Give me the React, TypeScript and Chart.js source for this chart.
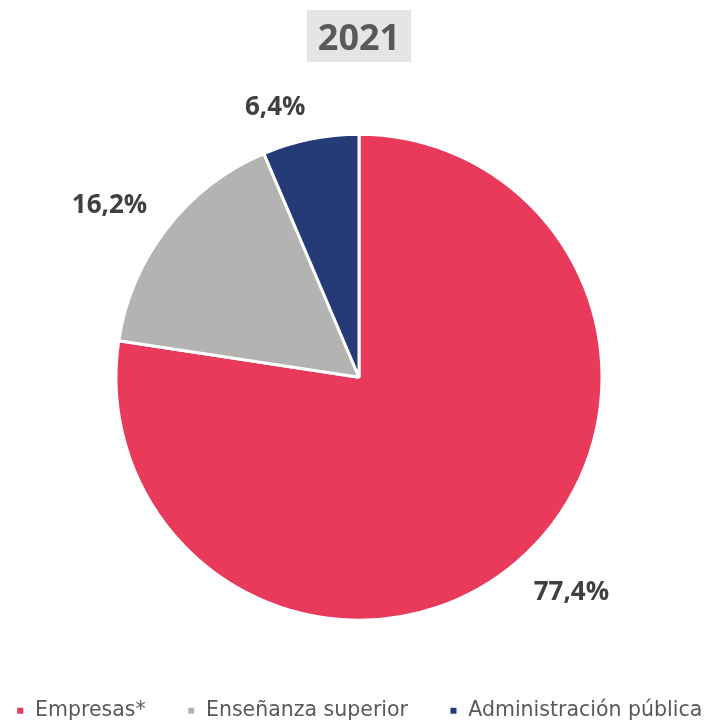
import React, { useEffect, useRef } from "react";
import { Chart, registerables } from "chart.js";

Chart.register(...registerables);

const categories = ["Empresas*", "Enseñanza superior", "Administración pública"];
const values = [77.4, 16.2, 6.4];
const colors = ["#EA3A5C", "#B3B3B2", "#243B78"];
const titleText = "2021";

const FONT = "'Open Sans', 'Liberation Sans', sans-serif";
const LEGEND_FONT = "'DejaVu Sans', sans-serif";

const titlePlugin = {
  id: "titleBox",
  afterDraw(chart: any) {
    const ctx = chart.ctx;
    ctx.save();
    ctx.font = `bold 36px ${FONT}`;
    const w = ctx.measureText(titleText).width;
    const meta = chart.getDatasetMeta(0);
    const cx = meta.data.length ? meta.data[0].x : chart.width / 2;
    const bw = w + 22;
    ctx.fillStyle = "#E5E5E5";
    ctx.fillRect(cx - bw / 2, 10, bw, 52);
    ctx.fillStyle = "#595959";
    ctx.textAlign = "center";
    ctx.textBaseline = "alphabetic";
    ctx.fillText(titleText, cx, 50);
    ctx.restore();
  },
};

const labelPlugin = {
  id: "outsideLabels",
  afterDatasetsDraw(chart: any) {
    const ctx = chart.ctx;
    const meta = chart.getDatasetMeta(0);
    const data = chart.data.datasets[0].data as number[];
    ctx.save();
    ctx.font = `bold 26px ${FONT}`;
    ctx.fillStyle = "#404040";
    meta.data.forEach((arc: any, i: number) => {
      const p = arc.getProps(["x", "y", "startAngle", "endAngle", "outerRadius"], true);
      const mid = (p.startAngle + p.endAngle) / 2;
      const dx = Math.cos(mid);
      const dy = Math.sin(mid);
      const d = p.outerRadius + 25;
      const px = p.x + dx * d;
      const py = p.y + dy * d;
      const txt = data[i].toFixed(1).replace(".", ",") + "%";
      ctx.textAlign = dx >= 0 ? "left" : "right";
      ctx.textBaseline = "alphabetic";
      const cap = 20;
      const by = dy >= 0 ? py + cap : py;
      ctx.fillText(txt, px, by);
    });
    ctx.restore();
  },
};

export default function App() {
  const ref = useRef<HTMLCanvasElement | null>(null);
  useEffect(() => {
    if (!ref.current) return;
    const chart = new Chart(ref.current, {
      type: "pie",
      data: {
        labels: categories,
        datasets: [
          {
            data: values,
            backgroundColor: colors,
            borderColor: "#FFFFFF",
            borderWidth: 3,
            radius: 243,
          } as any,
        ],
      },
      options: {
        animation: false,
        responsive: false,
        maintainAspectRatio: false,
        layout: { padding: { left: 0, right: 0, top: 95, bottom: -6 } },
        plugins: {
          tooltip: { enabled: false },
          title: { display: false },
          legend: {
            display: true,
            position: "bottom",
            labels: {
              usePointStyle: true,
              pointStyle: "rect",
              boxWidth: 9,
              boxHeight: 9,
              padding: 41,
              color: "#595959",
              font: { family: LEGEND_FONT, size: 20.5 },
            },
          },
        },
      },
      plugins: [titlePlugin, labelPlugin],
    });
    return () => chart.destroy();
  }, []);
  return (
    <div
      style={{
        position: "fixed",
        left: 0,
        top: 0,
        width: 712,
        height: 725,
        overflow: "hidden",
        background: "#fff",
      }}
    >
      <canvas
        ref={ref}
        width={800}
        height={725}
        style={{ position: "absolute", left: -41, top: 0 }}
      />
    </div>
  );
}
